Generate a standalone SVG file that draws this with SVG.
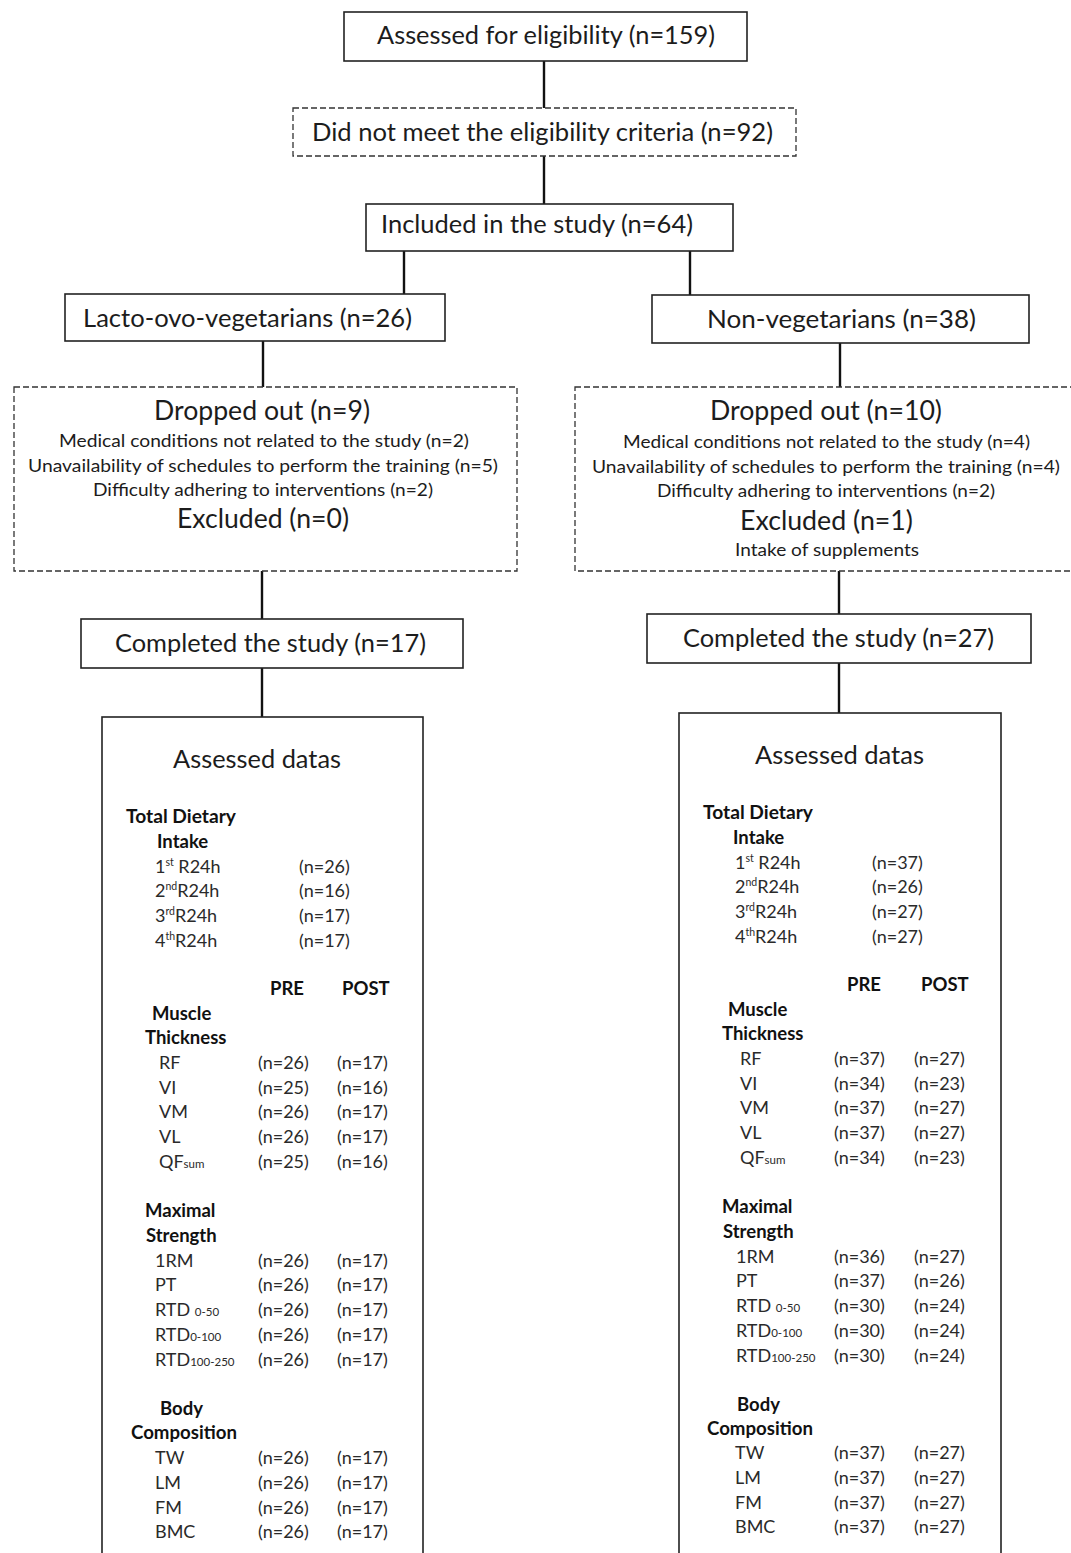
<svg xmlns="http://www.w3.org/2000/svg" width="1071" height="1553" viewBox="0 0 1071 1553">
<style>
.box{fill:#fff;stroke:#222;stroke-width:1.6}
.dash{fill:#fff;stroke:#333;stroke-width:1.3;stroke-dasharray:6 3}
.conn line{stroke:#111;stroke-width:2.4}
text{font-family:Lato,"Liberation Sans",sans-serif;fill:#1c1c1c}
.big{font-size:25px}
.mid{font-size:26px}
.sm{font-size:17px}
.tb{font-size:18px;fill:#2a2a2a}
.hd{font-size:18.5px;font-weight:bold;fill:#111}
.sup{font-size:10.5px}
.sub{font-size:11.5px}
</style>
<rect width="1071" height="1553" fill="#fff"/>
<g class="conn" id="connectors">
<line x1="544" y1="61" x2="544" y2="108"/>
<line x1="544" y1="156" x2="544" y2="204"/>
<line x1="404" y1="251" x2="404" y2="294"/>
<line x1="690" y1="251" x2="690" y2="295"/>
<line x1="263" y1="341" x2="263" y2="387"/>
<line x1="840" y1="343" x2="840" y2="387"/>
<line x1="262" y1="571" x2="262" y2="619"/>
<line x1="839" y1="571" x2="839" y2="614"/>
<line x1="262" y1="668" x2="262" y2="717"/>
<line x1="839" y1="663" x2="839" y2="713"/>
</g>
<g id="assessed-eligibility">
<rect class="box" x="344" y="12" width="403" height="49"/>
<text class="big" x="377" y="44" textLength="338" lengthAdjust="spacingAndGlyphs">Assessed for eligibility (n=159)</text>
</g>
<g id="not-eligible">
<rect class="dash" x="293" y="108" width="503" height="48"/>
<text class="big" x="312" y="141" textLength="461" lengthAdjust="spacingAndGlyphs">Did not meet the eligibility criteria (n=92)</text>
</g>
<g id="included">
<rect class="box" x="366" y="204" width="367" height="47"/>
<text class="big" x="381" y="233" textLength="312" lengthAdjust="spacingAndGlyphs">Included in the study (n=64)</text>
</g>
<g id="lacto">
<rect class="box" x="65" y="294" width="380" height="47"/>
<text class="big" x="83" y="327" textLength="329" lengthAdjust="spacingAndGlyphs">Lacto-ovo-vegetarians (n=26)</text>
</g>
<g id="nonveg">
<rect class="box" x="652" y="295" width="377" height="48"/>
<text class="big" x="707" y="328" textLength="269" lengthAdjust="spacingAndGlyphs">Non-vegetarians  (n=38)</text>
</g>
<g id="dropout-left">
<rect class="dash" x="14" y="387" width="503" height="184"/>
<text class="mid" x="154" y="420" textLength="216" lengthAdjust="spacingAndGlyphs">Dropped out (n=9)</text>
<text class="sm" x="59" y="447" textLength="410" lengthAdjust="spacingAndGlyphs">Medical conditions not related to the study (n=2)</text>
<text class="sm" x="28" y="472" textLength="470" lengthAdjust="spacingAndGlyphs">Unavailability of schedules to perform the training (n=5)</text>
<text class="sm" x="93" y="496" textLength="340" lengthAdjust="spacingAndGlyphs">Difficulty adhering to interventions (n=2)</text>
<text class="mid" x="177" y="528" textLength="172" lengthAdjust="spacingAndGlyphs">Excluded (n=0)</text>
</g>
<g id="dropout-right">
<rect class="dash" x="575" y="387" width="520" height="184"/>
<text class="mid" x="710" y="420" textLength="232" lengthAdjust="spacingAndGlyphs">Dropped out (n=10)</text>
<text class="sm" x="623" y="448" textLength="407" lengthAdjust="spacingAndGlyphs">Medical conditions not related to the study (n=4)</text>
<text class="sm" x="592" y="473" textLength="468" lengthAdjust="spacingAndGlyphs">Unavailability of schedules to perform the training (n=4)</text>
<text class="sm" x="657" y="497" textLength="338" lengthAdjust="spacingAndGlyphs">Difficulty adhering to interventions (n=2)</text>
<text class="mid" x="740" y="530" textLength="173" lengthAdjust="spacingAndGlyphs">Excluded (n=1)</text>
<text class="sm" x="735" y="556" textLength="184" lengthAdjust="spacingAndGlyphs">Intake of supplements</text>
</g>
<g id="completed-left">
<rect class="box" x="81" y="619" width="382" height="49"/>
<text class="big" x="115" y="652" textLength="311" lengthAdjust="spacingAndGlyphs">Completed the study (n=17)</text>
</g>
<g id="completed-right">
<rect class="box" x="647" y="614" width="384" height="49"/>
<text class="big" x="683" y="647" textLength="311" lengthAdjust="spacingAndGlyphs">Completed the study (n=27)</text>
</g>
<g id="assessed-left">
<rect class="box" x="102" y="717" width="321" height="850"/>
<text class="big" x="173" y="768" textLength="168" lengthAdjust="spacingAndGlyphs">Assessed datas</text>
<text class="hd" x="126" y="823" textLength="110" lengthAdjust="spacingAndGlyphs">Total Dietary</text>
<text class="hd" x="157" y="848">Intake</text>
<text class="tb" x="155" y="873">1<tspan class="sup" dy="-7">st</tspan><tspan dy="7"> R24h</tspan></text>
<text class="tb" x="155" y="897">2<tspan class="sup" dy="-7">nd</tspan><tspan dy="7">R24h</tspan></text>
<text class="tb" x="155" y="922">3<tspan class="sup" dy="-7">rd</tspan><tspan dy="7">R24h</tspan></text>
<text class="tb" x="155" y="947">4<tspan class="sup" dy="-7">th</tspan><tspan dy="7">R24h</tspan></text>
<text class="tb" x="299" y="873">(n=26)</text>
<text class="tb" x="299" y="897">(n=16)</text>
<text class="tb" x="299" y="922">(n=17)</text>
<text class="tb" x="299" y="947">(n=17)</text>
<text class="hd" x="270" y="995">PRE</text>
<text class="hd" x="342" y="995">POST</text>
<text class="hd" x="152" y="1020">Muscle</text>
<text class="hd" x="145" y="1044">Thickness</text>
<text class="tb" x="159" y="1069">RF</text><text class="tb" x="258" y="1069">(n=26)</text><text class="tb" x="337" y="1069">(n=17)</text>
<text class="tb" x="159" y="1094">VI</text><text class="tb" x="258" y="1094">(n=25)</text><text class="tb" x="337" y="1094">(n=16)</text>
<text class="tb" x="159" y="1118">VM</text><text class="tb" x="258" y="1118">(n=26)</text><text class="tb" x="337" y="1118">(n=17)</text>
<text class="tb" x="159" y="1143">VL</text><text class="tb" x="258" y="1143">(n=26)</text><text class="tb" x="337" y="1143">(n=17)</text>
<text class="tb" x="159" y="1168">QF<tspan class="sub">sum</tspan></text><text class="tb" x="258" y="1168">(n=25)</text><text class="tb" x="337" y="1168">(n=16)</text>
<text class="hd" x="145" y="1217">Maximal</text>
<text class="hd" x="146" y="1242">Strength</text>
<text class="tb" x="155" y="1267">1RM</text><text class="tb" x="258" y="1267">(n=26)</text><text class="tb" x="337" y="1267">(n=17)</text>
<text class="tb" x="155" y="1291">PT</text><text class="tb" x="258" y="1291">(n=26)</text><text class="tb" x="337" y="1291">(n=17)</text>
<text class="tb" x="155" y="1316">RTD <tspan class="sub">0-50</tspan></text><text class="tb" x="258" y="1316">(n=26)</text><text class="tb" x="337" y="1316">(n=17)</text>
<text class="tb" x="155" y="1341">RTD<tspan class="sub">0-100</tspan></text><text class="tb" x="258" y="1341">(n=26)</text><text class="tb" x="337" y="1341">(n=17)</text>
<text class="tb" x="155" y="1366">RTD<tspan class="sub">100-250</tspan></text><text class="tb" x="258" y="1366">(n=26)</text><text class="tb" x="337" y="1366">(n=17)</text>
<text class="hd" x="160" y="1415">Body</text>
<text class="hd" x="131" y="1439" textLength="106" lengthAdjust="spacingAndGlyphs">Composition</text>
<text class="tb" x="155" y="1464">TW</text><text class="tb" x="258" y="1464">(n=26)</text><text class="tb" x="337" y="1464">(n=17)</text>
<text class="tb" x="155" y="1489">LM</text><text class="tb" x="258" y="1489">(n=26)</text><text class="tb" x="337" y="1489">(n=17)</text>
<text class="tb" x="155" y="1514">FM</text><text class="tb" x="258" y="1514">(n=26)</text><text class="tb" x="337" y="1514">(n=17)</text>
<text class="tb" x="155" y="1538">BMC</text><text class="tb" x="258" y="1538">(n=26)</text><text class="tb" x="337" y="1538">(n=17)</text>
</g>
<g id="assessed-right">
<rect class="box" x="679" y="713" width="322" height="850"/>
<text class="big" x="755" y="764" textLength="169" lengthAdjust="spacingAndGlyphs">Assessed datas</text>
<text class="hd" x="703" y="819" textLength="110" lengthAdjust="spacingAndGlyphs">Total Dietary</text>
<text class="hd" x="733" y="844">Intake</text>
<text class="tb" x="735" y="869">1<tspan class="sup" dy="-7">st</tspan><tspan dy="7"> R24h</tspan></text>
<text class="tb" x="735" y="893">2<tspan class="sup" dy="-7">nd</tspan><tspan dy="7">R24h</tspan></text>
<text class="tb" x="735" y="918">3<tspan class="sup" dy="-7">rd</tspan><tspan dy="7">R24h</tspan></text>
<text class="tb" x="735" y="943">4<tspan class="sup" dy="-7">th</tspan><tspan dy="7">R24h</tspan></text>
<text class="tb" x="872" y="869">(n=37)</text>
<text class="tb" x="872" y="893">(n=26)</text>
<text class="tb" x="872" y="918">(n=27)</text>
<text class="tb" x="872" y="943">(n=27)</text>
<text class="hd" x="847" y="991">PRE</text>
<text class="hd" x="921" y="991">POST</text>
<text class="hd" x="728" y="1016">Muscle</text>
<text class="hd" x="722" y="1040">Thickness</text>
<text class="tb" x="740" y="1065">RF</text><text class="tb" x="834" y="1065">(n=37)</text><text class="tb" x="914" y="1065">(n=27)</text>
<text class="tb" x="740" y="1090">VI</text><text class="tb" x="834" y="1090">(n=34)</text><text class="tb" x="914" y="1090">(n=23)</text>
<text class="tb" x="740" y="1114">VM</text><text class="tb" x="834" y="1114">(n=37)</text><text class="tb" x="914" y="1114">(n=27)</text>
<text class="tb" x="740" y="1139">VL</text><text class="tb" x="834" y="1139">(n=37)</text><text class="tb" x="914" y="1139">(n=27)</text>
<text class="tb" x="740" y="1164">QF<tspan class="sub">sum</tspan></text><text class="tb" x="834" y="1164">(n=34)</text><text class="tb" x="914" y="1164">(n=23)</text>
<text class="hd" x="722" y="1213">Maximal</text>
<text class="hd" x="723" y="1238">Strength</text>
<text class="tb" x="736" y="1263">1RM</text><text class="tb" x="834" y="1263">(n=36)</text><text class="tb" x="914" y="1263">(n=27)</text>
<text class="tb" x="736" y="1287">PT</text><text class="tb" x="834" y="1287">(n=37)</text><text class="tb" x="914" y="1287">(n=26)</text>
<text class="tb" x="736" y="1312">RTD <tspan class="sub">0-50</tspan></text><text class="tb" x="834" y="1312">(n=30)</text><text class="tb" x="914" y="1312">(n=24)</text>
<text class="tb" x="736" y="1337">RTD<tspan class="sub">0-100</tspan></text><text class="tb" x="834" y="1337">(n=30)</text><text class="tb" x="914" y="1337">(n=24)</text>
<text class="tb" x="736" y="1362">RTD<tspan class="sub">100-250</tspan></text><text class="tb" x="834" y="1362">(n=30)</text><text class="tb" x="914" y="1362">(n=24)</text>
<text class="hd" x="737" y="1411">Body</text>
<text class="hd" x="707" y="1435" textLength="106" lengthAdjust="spacingAndGlyphs">Composition</text>
<text class="tb" x="735" y="1459">TW</text><text class="tb" x="834" y="1459">(n=37)</text><text class="tb" x="914" y="1459">(n=27)</text>
<text class="tb" x="735" y="1484">LM</text><text class="tb" x="834" y="1484">(n=37)</text><text class="tb" x="914" y="1484">(n=27)</text>
<text class="tb" x="735" y="1509">FM</text><text class="tb" x="834" y="1509">(n=37)</text><text class="tb" x="914" y="1509">(n=27)</text>
<text class="tb" x="735" y="1533">BMC</text><text class="tb" x="834" y="1533">(n=37)</text><text class="tb" x="914" y="1533">(n=27)</text>
</g>
</svg>
